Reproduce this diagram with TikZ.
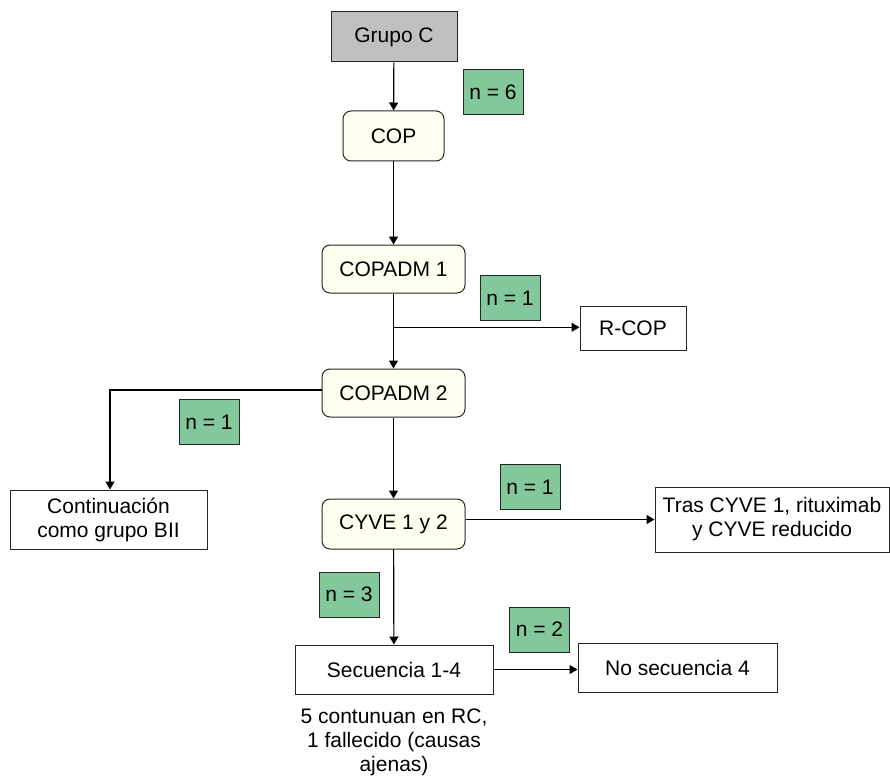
\documentclass[tikz,border=0pt]{standalone}
\usepackage{fontspec}
\setmainfont{Liberation Sans}
\usetikzlibrary{arrows.meta,positioning,calc}

\definecolor{grupogray}{RGB}{192,192,192}
\definecolor{cream}{RGB}{255,255,240}
\definecolor{ngreen}{RGB}{130,200,155}

\begin{document}
\begin{tikzpicture}[
  x=1pt, y=-1pt,
  font=\fontsize{21}{24}\selectfont,
  >={Triangle[length=8pt,width=9pt]},
  box/.style={draw=black!85, line width=1pt, align=center, inner sep=0pt},
  head/.style ={box, fill=grupogray},
  cycle/.style={box, fill=cream, rounded corners=8pt, minimum width=143pt, minimum height=48pt},
  plain/.style={box, fill=white},
  count/.style={box, fill=ngreen, minimum width=60pt, minimum height=45pt},
  flow/.style ={->, line width=1.2pt, black},
]
\useasboundingbox (0,0) rectangle (890,778);

% ---------- Main chain ----------
\node[head, minimum width=126pt, minimum height=50pt] (grupo) at (394,37) {Grupo C};
\node[cycle, minimum width=101pt, minimum height=50pt] (cop) at (393.5,136) {COP};
\node[cycle] (adm1) at (393.5,269) {COPADM 1};
\node[cycle] (adm2) at (393.5,393) {COPADM 2};
\node[cycle, minimum height=50pt] (cyve) at (393.5,524) {CYVE 1 y 2};
\node[plain, minimum width=198pt, minimum height=49pt] (sec) at (394,669.5) {Secuencia 1-4};

% ---------- Side outcomes ----------
\node[plain, minimum width=106pt, minimum height=44pt] (rcop) at (633,328) {R-COP};
\node[plain, minimum width=197pt, minimum height=59pt] (cont) at (108.5,519.5) {Continuación\\como grupo BII};
\node[plain, minimum width=234pt, minimum height=65pt] (tras) at (772,519.5) {Tras CYVE 1, rituximab\\y CYVE reducido};
\node[plain, minimum width=199pt, minimum height=49pt] (nosec) at (677.5,667.5) {No secuencia 4};

\node[below=11pt of sec, align=center, font=\fontsize{21}{24}\selectfont] (final)
  {5 contunuan en RC,\\1 fallecido (causas\\ajenas)};

% ---------- Counts ----------
\node[count] (n6) at (493,92.5) {n = 6};
\node[count] (n1a) at (510,298) {n = 1};
\node[count] (n1b) at (209,422) {n = 1};
\node[count] (n1c) at (530,487) {n = 1};
\node[count] (n3) at (349,594.5) {n = 3};
\node[count] (n2) at (539.5,629.5) {n = 2};

% ---------- Connectors ----------
\coordinate (split) at ($(adm1.south)!0.45!(adm2.north)$);
\coordinate (bend) at (110,390);

\draw[flow] (grupo) -- (cop);
\draw[flow] (cop)   -- (adm1);
\draw[flow] (adm1)  -- (adm2);
\draw[flow] (split) -- (rcop.west|-split);
\draw[flow] (adm2.west|-bend) -- (bend) -- (cont.north-|bend);
\draw[flow] (adm2)  -- (cyve);
\draw[flow] (cyve.east|-tras) -- (tras);
\draw[flow] (cyve)  -- (sec);
\draw[flow] (sec)   -- (nosec.west|-sec);

\end{tikzpicture}
\end{document}
